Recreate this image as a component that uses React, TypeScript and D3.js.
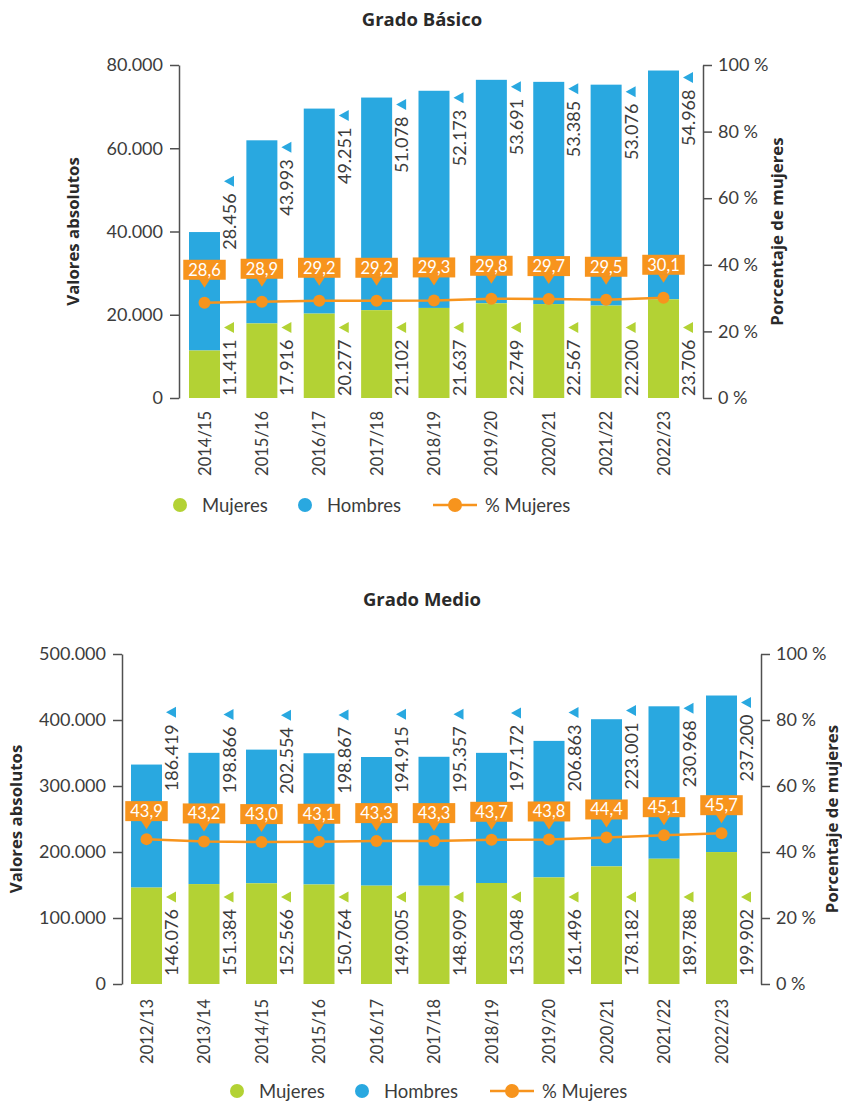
import React, { useEffect, useRef } from "react";
import * as d3 from "d3";

// ---------- Data ----------
const basicoYears = ["2014/15", "2015/16", "2016/17", "2017/18", "2018/19", "2019/20", "2020/21", "2021/22", "2022/23"];
const basicoMujeres = [11411, 17916, 20277, 21102, 21637, 22749, 22567, 22200, 23706];
const basicoHombres = [28456, 43993, 49251, 51078, 52173, 53691, 53385, 53076, 54968];
const basicoPct = [28.6, 28.9, 29.2, 29.2, 29.3, 29.8, 29.7, 29.5, 30.1];
const basicoTicks = [0, 20000, 40000, 60000, 80000];

const medioYears = ["2012/13", "2013/14", "2014/15", "2015/16", "2016/17", "2017/18", "2018/19", "2019/20", "2020/21", "2021/22", "2022/23"];
const medioMujeres = [146076, 151384, 152566, 150764, 149005, 148909, 153048, 161496, 178182, 189788, 199902];
const medioHombres = [186419, 198866, 202554, 198867, 194915, 195357, 197172, 206863, 223001, 230968, 237200];
const medioPct = [43.9, 43.2, 43.0, 43.1, 43.3, 43.3, 43.7, 43.8, 44.4, 45.1, 45.7];
const medioTicks = [0, 100000, 200000, 300000, 400000, 500000];

const pctTicks = [0, 20, 40, 60, 80, 100];
const legendLabels = ["Mujeres", "Hombres", "% Mujeres"];

// ---------- Style ----------
const C = {
  mujeres: "#b3d234",
  hombres: "#29a8e0",
  pct: "#f7941d",
  axis: "#505050",
  text: "#3c3c3c",
  title: "#2a2a2a",
};
const FONT = "Lato, 'Open Sans', sans-serif";
const BOLD_FONT = "'Open Sans', Lato, sans-serif";

const locale = d3.formatLocale({ decimal: ",", thousands: ".", grouping: [3], currency: ["", " €"] });
const fmtInt = locale.format(",d");
const fmtPct = locale.format(".1f");

interface Cfg {
  title: string;
  titleY: number;
  years: string[];
  mujeres: number[];
  hombres: number[];
  pct: number[];
  ticks: number[];
  yTop: number;
  yBottom: number;
  xFirst: number;
  xLast: number;
  leftAxisX: number;
  rightAxisX: number;
  leftTitleX: number;
  rightTitleX: number;
  catY: number;
  mujStart: number;
  tipOffset: number;
  legendY: number;
  legendX: number;
}

function drawChart(root: d3.Selection<SVGSVGElement, unknown, null, undefined>, cfg: Cfg) {
  const g = root.append("g").attr("font-family", FONT);
  const yMax = cfg.ticks[cfg.ticks.length - 1];
  const y = d3.scaleLinear().domain([0, yMax]).range([cfg.yBottom, cfg.yTop]);
  const yp = d3.scaleLinear().domain([0, 100]).range([cfg.yBottom, cfg.yTop]);
  const x = d3.scalePoint<string>().domain(cfg.years).range([cfg.xFirst, cfg.xLast]);
  const bw = 31;

  // title
  g.append("text")
    .attr("x", 422)
    .attr("y", cfg.titleY)
    .attr("text-anchor", "middle")
    .attr("dominant-baseline", "central")
    .attr("font-family", BOLD_FONT)
    .attr("font-weight", 700)
    .attr("font-size", 18.5)
    .attr("fill", C.title)
    .text(cfg.title);

  // axes
  const la = d3.axisLeft(y).tickValues(cfg.ticks).tickFormat((d) => fmtInt(d as number)).tickSize(9).tickSizeOuter(0).tickPadding(7);
  const lg = g.append("g").attr("transform", `translate(${cfg.leftAxisX},0)`).call(la);
  const ra = d3.axisRight(yp).tickValues(pctTicks).tickFormat((d) => `${d} %`).tickSize(9).tickSizeOuter(0).tickPadding(6);
  const rg = g.append("g").attr("transform", `translate(${cfg.rightAxisX},0)`).call(ra);
  [lg, rg].forEach((ax) => {
    ax.select(".domain").attr("stroke", C.axis).attr("stroke-width", 1.5);
    ax.selectAll(".tick line").attr("stroke", C.axis).attr("stroke-width", 1.5);
    ax.selectAll(".tick text").attr("fill", C.text).attr("font-size", 18).attr("font-family", FONT);
  });

  // axis titles
  const midY = (cfg.yTop + cfg.yBottom) / 2;
  g.append("text")
    .attr("transform", `translate(${cfg.leftTitleX},${midY}) rotate(-90)`)
    .attr("text-anchor", "middle")
    .attr("dominant-baseline", "central")
    .attr("font-family", BOLD_FONT)
    .attr("font-weight", 700)
    .attr("font-size", 16.8)
    .attr("fill", C.title)
    .text("Valores absolutos");
  g.append("text")
    .attr("transform", `translate(${cfg.rightTitleX},${midY}) rotate(-90)`)
    .attr("text-anchor", "middle")
    .attr("dominant-baseline", "central")
    .attr("font-family", BOLD_FONT)
    .attr("font-weight", 700)
    .attr("font-size", 16.8)
    .attr("fill", C.title)
    .text("Porcentaje de mujeres");

  // bars
  cfg.years.forEach((yr, i) => {
    const xc = x(yr) as number;
    const m = cfg.mujeres[i];
    const h = cfg.hombres[i];
    g.append("rect")
      .attr("x", xc - bw / 2)
      .attr("width", bw)
      .attr("y", y(m + h))
      .attr("height", y(m) - y(m + h))
      .attr("fill", C.hombres);
    g.append("rect")
      .attr("x", xc - bw / 2)
      .attr("width", bw)
      .attr("y", y(m))
      .attr("height", y(0) - y(m))
      .attr("fill", C.mujeres);
  });

  // category labels
  cfg.years.forEach((yr) => {
    g.append("text")
      .attr("transform", `translate(${x(yr)},${cfg.catY}) rotate(-90)`)
      .attr("text-anchor", "end")
      .attr("dominant-baseline", "central")
      .attr("font-size", 16.5)
      .attr("fill", C.text)
      .text(yr);
  });

  const tri = "M-5,0 L5,-5.5 L5,5.5 Z";

  // value labels
  cfg.years.forEach((yr, i) => {
    const xc = (x(yr) as number) + bw / 2 + 9;
    const m = cfg.mujeres[i];
    const h = cfg.hombres[i];
    // mujeres
    const tm = g.append("text")
      .attr("transform", `translate(${xc},${cfg.mujStart}) rotate(-90)`)
      .attr("text-anchor", "start")
      .attr("dominant-baseline", "central")
      .attr("font-size", 18)
      .attr("fill", C.text)
      .text(fmtInt(m));
    const Lm = (tm.node() as SVGTextElement).getComputedTextLength();
    g.append("path").attr("d", tri).attr("fill", C.mujeres)
      .attr("transform", `translate(${xc},${cfg.mujStart - Lm - 12})`);

    // hombres
    const th = g.append("text")
      .attr("text-anchor", "start")
      .attr("dominant-baseline", "central")
      .attr("font-size", 18)
      .attr("fill", C.text)
      .text(fmtInt(h));
    const Lh = (th.node() as SVGTextElement).getComputedTextLength();
    const barTop = y(m + h);
    const boxTop = yp(cfg.pct[i]) - cfg.tipOffset - 8 - 20;
    let triY = barTop + 7;
    let start = triY + 12 + Lh;
    if (start > boxTop - 10) {
      start = boxTop - 10;
      triY = start - Lh - 12;
    }
    th.attr("transform", `translate(${xc},${start}) rotate(-90)`);
    g.append("path").attr("d", tri).attr("fill", C.hombres)
      .attr("transform", `translate(${xc},${triY})`);
  });

  // pct line
  const line = d3.line<number>()
    .x((_, i) => x(cfg.years[i]) as number)
    .y((d) => yp(d));
  g.append("path")
    .attr("d", line(cfg.pct))
    .attr("fill", "none")
    .attr("stroke", C.pct)
    .attr("stroke-width", 2.5);
  cfg.pct.forEach((p, i) => {
    const xc = x(cfg.years[i]) as number;
    g.append("circle").attr("cx", xc).attr("cy", yp(p)).attr("r", 6).attr("fill", C.pct);
    const lab = g.append("g").attr("transform", `translate(${xc},${yp(p) - cfg.tipOffset})`);
    const rect = lab.append("rect").attr("fill", C.pct);
    lab.append("path").attr("d", "M-5.5,-8.5 L5.5,-8.5 L0,0 Z").attr("fill", C.pct);
    const t = lab.append("text")
      .attr("y", -8 - 10)
      .attr("text-anchor", "middle")
      .attr("dominant-baseline", "central")
      .attr("font-size", 16.5)
      .attr("fill", "#ffffff")
      .text(fmtPct(p));
    const w = (t.node() as SVGTextElement).getComputedTextLength() + 10;
    rect.attr("x", -w / 2).attr("y", -8 - 20).attr("width", w).attr("height", 20);
  });

  // legend
  const lgd = g.append("g").attr("transform", `translate(${cfg.legendX},${cfg.legendY})`);
  lgd.append("circle").attr("cx", 7).attr("cy", 0).attr("r", 7).attr("fill", C.mujeres);
  lgd.append("text").attr("x", 29).attr("dominant-baseline", "central").attr("font-size", 18.5).attr("fill", C.text).text(legendLabels[0]);
  lgd.append("circle").attr("cx", 132).attr("cy", 0).attr("r", 7).attr("fill", C.hombres);
  lgd.append("text").attr("x", 154).attr("dominant-baseline", "central").attr("font-size", 18.5).attr("fill", C.text).text(legendLabels[1]);
  lgd.append("line").attr("x1", 260).attr("x2", 304).attr("y1", 0).attr("y2", 0).attr("stroke", C.pct).attr("stroke-width", 2.5);
  lgd.append("circle").attr("cx", 282).attr("cy", 0).attr("r", 7).attr("fill", C.pct);
  lgd.append("text").attr("x", 312).attr("dominant-baseline", "central").attr("font-size", 18.5).attr("fill", C.text).text(legendLabels[2]);
}

const basicoCfg: Cfg = {
  title: "Grado Básico",
  titleY: 18,
  years: basicoYears,
  mujeres: basicoMujeres,
  hombres: basicoHombres,
  pct: basicoPct,
  ticks: basicoTicks,
  yTop: 65,
  yBottom: 398,
  xFirst: 204.5,
  xLast: 663.5,
  leftAxisX: 179,
  rightAxisX: 703,
  leftTitleX: 72,
  rightTitleX: 776,
  catY: 411,
  mujStart: 396,
  tipOffset: 15,
  legendY: 505,
  legendX: 173,
};

const medioCfg: Cfg = {
  title: "Grado Medio",
  titleY: 598,
  years: medioYears,
  mujeres: medioMujeres,
  hombres: medioHombres,
  pct: medioPct,
  ticks: medioTicks,
  yTop: 654,
  yBottom: 984,
  xFirst: 146.5,
  xLast: 721.5,
  leftAxisX: 122,
  rightAxisX: 761,
  leftTitleX: 15,
  rightTitleX: 831,
  catY: 999,
  mujStart: 976,
  tipOffset: 10,
  legendY: 1091,
  legendX: 230,
};

export default function App() {
  const ref = useRef<SVGSVGElement | null>(null);
  useEffect(() => {
    document.body.style.margin = "0";
    const svg = d3.select(ref.current as SVGSVGElement);
    svg.selectAll("*").remove();
    svg.append("rect").attr("width", 842).attr("height", 1102).attr("fill", "#ffffff");
    drawChart(svg, basicoCfg);
    drawChart(svg, medioCfg);
  }, []);
  return <svg ref={ref} width={842} height={1102} style={{ display: "block" }} />;
}
